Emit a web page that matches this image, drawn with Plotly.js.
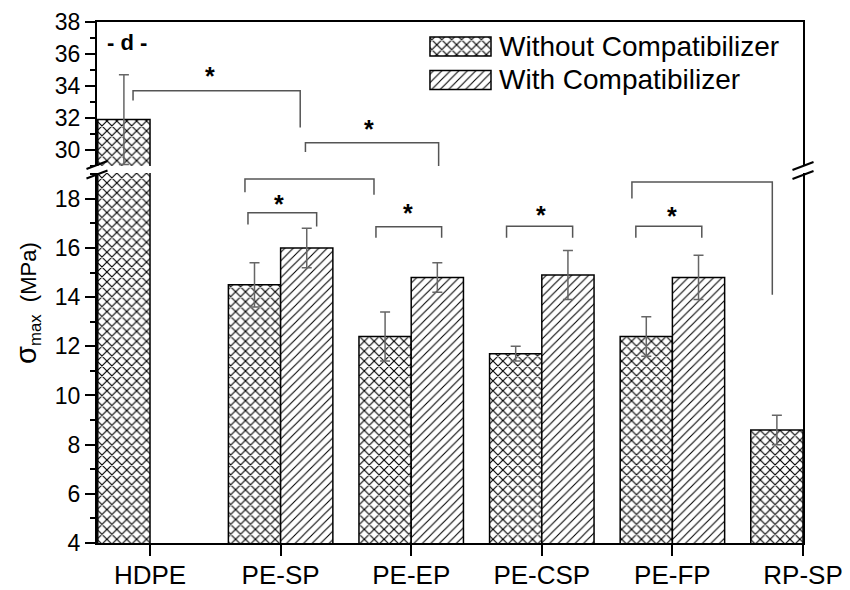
<!DOCTYPE html>
<html>
<head>
<meta charset="utf-8">
<script src="https://cdn.plot.ly/plotly-3.0.1.min.js"></script>
<style>html,body{margin:0;padding:0;background:#fff;}#chart{width:850px;height:590px;}</style>
</head>
<body>
<div id="chart"></div>
<script>
// ---- data ----
const categories = ['HDPE', 'PE-SP', 'PE-EP', 'PE-CSP', 'PE-FP', 'RP-SP'];
const withoutVals = [31.9, 14.5, 12.4, 11.7, 12.4, 8.6];
const withoutErr  = [2.8, 0.9, 1.0, 0.3, 0.8, 0.6];
const withVals    = [null, 16.0, 14.8, 14.9, 14.8, null];
const withErr     = [null, 0.8, 0.6, 1.0, 0.9, null];
const seriesNames = ['Without Compatibilizer', 'With Compatibilizer'];
const lowerTicks = [4, 6, 8, 10, 12, 14, 16, 18];
const upperTicks = [30, 32, 34, 36, 38];
// significance brackets: axis, x from/to (category units), top level, left/right drop ends, star position
const brackets = [
  {axis: 'y2', x1: -0.13, x2: 1.15, top: 33.7, left: 33.1, right: 31.4, sx: 0.46, sy: 34.9},
  {axis: 'y2', x1: 1.19, x2: 2.21, top: 30.46, left: 29.88, right: 29.0, sx: 1.68, sy: 31.56},
  {axis: 'y', x1: 0.727, x2: 1.715, top: 18.81, left: 18.27, right: 18.17, sx: 1.16, sy: 19.4},
  {axis: 'y', x1: 0.75, x2: 1.276, top: 17.43, left: 16.95, right: 16.87, sx: 0.99, sy: 17.97},
  {axis: 'y', x1: 1.73, x2: 2.233, top: 16.86, left: 16.42, right: 16.42, sx: 1.975, sy: 17.57},
  {axis: 'y', x1: 2.73, x2: 3.236, top: 16.88, left: 16.42, right: 16.42, sx: 2.99, sy: 17.5},
  {axis: 'y', x1: 3.72, x2: 4.225, top: 16.88, left: 16.42, right: 16.42, sx: 3.995, sy: 17.48},
  {axis: 'y', x1: 3.69, x2: 4.765, top: 18.68, left: 18.01, right: 14.1, sx: 4.196, sy: 19.27}
];

const idx = categories.map((_, i) => i);
const FONT = '"Liberation Sans", Arial, Helvetica, sans-serif';
const patWithout = {shape: 'x', fgcolor: '#000', bgcolor: '#fff', size: 7, solidity: 0.3};
const patWith = {shape: '/', fgcolor: '#000', bgcolor: '#fff', size: 6, solidity: 0.18};
const outline = {color: '#000', width: 1.5};
const errStyle = {color: '#666', thickness: 1.5, width: 5};

function barTrace(vals, errs, pat, offset, yax, xax, name) {
  return {
    type: 'bar', x: idx, y: vals, name: name,
    xaxis: xax, yaxis: yax,
    offset: offset, width: 0.4,
    marker: {color: '#fff', pattern: pat, line: outline},
    error_y: Object.assign({type: 'data', array: errs, visible: true}, errStyle),
    showlegend: false, hoverinfo: 'skip'
  };
}

const traces = [
  barTrace(withoutVals, withoutErr, patWithout, -0.4, 'y', 'x', seriesNames[0]),
  barTrace(withVals, withErr, patWith, 0, 'y', 'x', seriesNames[1]),
  barTrace(withoutVals, withoutErr, patWithout, -0.4, 'y2', 'x2', seriesNames[0]),
  barTrace(withVals, withErr, patWith, 0, 'y2', 'x2', seriesNames[1]),
  // legend keys
  {type: 'bar', orientation: 'h', x: [1], y: [1], base: 0, width: 0.567, xaxis: 'x3', yaxis: 'y3',
   marker: {color: '#fff', pattern: patWithout, line: outline}, showlegend: false, hoverinfo: 'skip'},
  {type: 'bar', orientation: 'h', x: [1], y: [0], base: 0, width: 0.567, xaxis: 'x3', yaxis: 'y3',
   marker: {color: '#fff', pattern: patWith, line: outline}, showlegend: false, hoverinfo: 'skip'}
];

const shapes = [];
const annotations = [];
brackets.forEach(b => {
  const xr = b.axis === 'y2' ? 'x2' : 'x';
  shapes.push({type: 'path', xref: xr, yref: b.axis, layer: 'above',
    path: `M${b.x1},${b.left} L${b.x1},${b.top} L${b.x2},${b.top} L${b.x2},${b.right}`,
    line: {color: '#555', width: 1.5}});
  annotations.push({xref: xr, yref: b.axis, x: b.sx, y: b.sy, text: '<b>*</b>', showarrow: false,
    xanchor: 'center', yanchor: 'middle', yshift: -4, font: {family: FONT, size: 25, color: '#000'}});
});

// axis break marks
const lowTop = 0.7102, upBot = 0.7236;
[[0, 0.7255], [0, 0.7073], [1, 0.7236], [1, 0.7063]].forEach(([px, py]) => {
  shapes.push({type: 'line', xref: 'paper', yref: 'paper', layer: 'above',
    x0: px - 0.0149, y0: py - 0.0077, x1: px + 0.0149, y1: py + 0.0077,
    line: {color: '#000', width: 2}});
});

annotations.push(
  {xref: 'paper', yref: 'paper', x: 0.0425, y: 0.9616, text: '<b>- d -</b>', showarrow: false,
   xanchor: 'center', yanchor: 'middle', font: {family: FONT, size: 22, color: '#000'}},
  {xref: 'paper', yref: 'paper', x: -0.0977, y: 0.4607, textangle: -90,
   text: '<span style="font-size:29px">σ</span><sub>max</sub><span style="font-size:22px">&nbsp;&nbsp;(MPa)</span>',
   showarrow: false,
   xanchor: 'center', yanchor: 'middle', font: {family: FONT, size: 24, color: '#000'}},
  {xref: 'paper', yref: 'paper', x: 0.5666, y: 0.953, text: seriesNames[0], showarrow: false,
   xanchor: 'left', yanchor: 'middle', font: {family: FONT, size: 28, color: '#000'}},
  {xref: 'paper', yref: 'paper', x: 0.5666, y: 0.8887, text: seriesNames[1], showarrow: false,
   xanchor: 'left', yanchor: 'middle', font: {family: FONT, size: 28, color: '#000'}}
);

const yCommon = {
  showgrid: false, zeroline: false, showline: true, linecolor: '#000', linewidth: 2, mirror: true,
  ticks: 'outside', ticklen: 10, tickwidth: 2, tickcolor: '#000',
  tickfont: {family: FONT, size: 23, color: '#000'},
  minor: {ticks: 'outside', ticklen: 5, tickwidth: 2, tickcolor: '#000', dtick: 1, tick0: 0},
  fixedrange: true
};

const layout = {
  width: 850, height: 590,
  margin: {l: 97, r: 47, t: 22, b: 47},
  paper_bgcolor: '#fff', plot_bgcolor: 'rgba(0,0,0,0)',
  barmode: 'overlay',
  font: {family: FONT, color: '#000'},
  showlegend: false,
  xaxis: {range: [-0.406, 5], tickvals: idx, ticktext: categories, anchor: 'y',
    showgrid: false, zeroline: false, showline: true, linecolor: '#000', linewidth: 2,
    ticks: 'outside', ticklen: 11, tickwidth: 2, tickcolor: '#000', ticklabelstandoff: -3,
    tickfont: {family: FONT, size: 26, color: '#000'}, fixedrange: true},
  xaxis2: {matches: 'x', anchor: 'y2', side: 'top', showgrid: false, zeroline: false,
    showline: true, linecolor: '#000', linewidth: 2, ticks: '', showticklabels: false, fixedrange: true},
  yaxis: Object.assign({}, yCommon, {domain: [0, lowTop], range: [4, 19.05], tickvals: lowerTicks}),
  yaxis2: Object.assign({}, yCommon, {domain: [upBot, 1], range: [29, 38], tickvals: upperTicks, anchor: 'x2'}),
  xaxis3: {domain: [0.4673, 0.5624], range: [-0.05, 1.05], visible: false, anchor: 'y3', fixedrange: true},
  yaxis3: {domain: [0.8662, 0.9754], range: [-0.35, 1.35], visible: false, anchor: 'x3', fixedrange: true},
  shapes: shapes,
  annotations: annotations
};

Plotly.newPlot('chart', traces, layout, {staticPlot: true, displayModeBar: false});
</script>
</body>
</html>
